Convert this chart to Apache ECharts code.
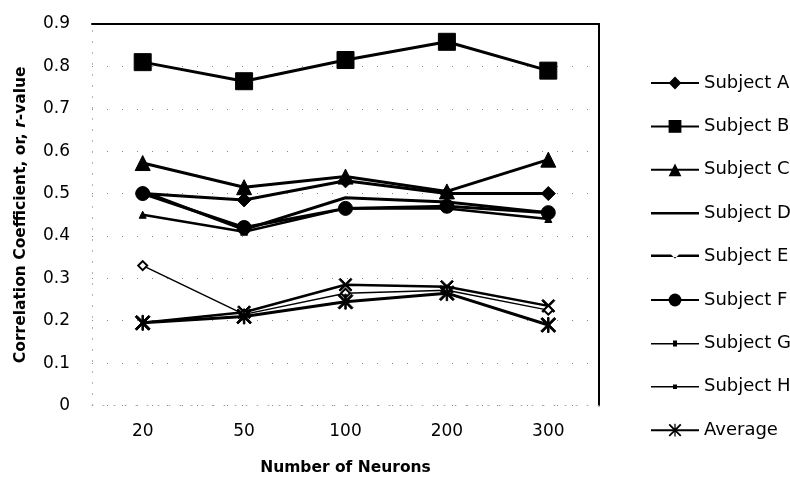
<!DOCTYPE html>
<html>
<head>
<meta charset="utf-8">
<script src="https://cdn.jsdelivr.net/npm/echarts@6/dist/echarts.min.js"></script>
<style>html,body{margin:0;padding:0;background:#fff;}#c{width:790px;height:482px;}</style>
</head>
<body>
<div id="c"></div>
<script>
const categories = ['20', '50', '100', '200', '300'];
const subjectA = [0.50, 0.485, 0.53, 0.50, 0.50];
const subjectB = [0.81, 0.765, 0.815, 0.858, 0.79];
const subjectC = [0.572, 0.515, 0.54, 0.505, 0.58];
const subjectD = [0.505, 0.415, 0.49, 0.48, 0.455];
const subjectE = [0.45, 0.41, 0.465, 0.465, 0.44];
const subjectF = [0.50, 0.42, 0.465, 0.47, 0.455];
const subjectG = [0.195, 0.22, 0.285, 0.28, 0.235];
const subjectH = [0.33, 0.215, 0.265, 0.272, 0.225];
const average = [0.195, 0.21, 0.245, 0.265, 0.19];
const yTicks = [0, 0.1, 0.2, 0.3, 0.4, 0.5, 0.6, 0.7, 0.8, 0.9];
const legendNames = ['Subject A','Subject B','Subject C','Subject D','Subject E','Subject F','Subject G','Subject H','Average'];

const FONT = 'DejaVu Sans';
const X_PATH = 'path://M0,2 L2,0 L10,8 L18,0 L20,2 L12,10 L20,18 L18,20 L10,12 L2,20 L0,18 L8,10 Z';
const STAR_PATH = 'path://M0,2 L2,0 L10,8 L18,0 L20,2 L12,10 L20,18 L18,20 L10,12 L2,20 L0,18 L8,10 Z M9,0 L11,0 L11,20 L9,20 Z';
// legend icons (line + small marker) for series whose marker is small in the reference
const ICON_LINE = 'path://M0,7 L48,7 L48,9.5 L0,9.5 Z';
const ICON_E = 'path://M0,7 L20,7 L24,11 L28,7 L48,7 L48,9.5 L0,9.5 Z';
const ICON_G = 'path://M0,7.5 L48,7.5 L48,9 L0,9 Z M22,5 L26,5 L26,11 L22,11 Z';
const ICON_H = 'path://M0,7.5 L48,7.5 L48,9 L0,9 Z M22,6 L26,6 L26,10.5 L22,10.5 Z';

function mk(name, data, symbol, size, width) {
  return {
    name: name, type: 'line', data: data,
    symbol: symbol, symbolSize: size, showSymbol: size > 0,
    lineStyle: {color: '#000', width: width},
    itemStyle: {color: '#000', borderColor: '#000'},
    animation: false, z: 3
  };
}

const legendData = legendNames.map(function (n) {
  if (n === 'Subject D') return {name: n, icon: ICON_LINE};
  if (n === 'Subject E') return {name: n, icon: ICON_E};
  if (n === 'Subject G') return {name: n, icon: ICON_G};
  if (n === 'Subject H') return {name: n, icon: ICON_H};
  return {name: n};
});

const chart = echarts.init(document.getElementById('c'), null, {renderer: 'canvas'});
chart.setOption({
  backgroundColor: '#fff',
  animation: false,
  grid: {left: 92, right: 191, top: 24, bottom: 76.5, containLabel: false},
  legend: {
    orient: 'vertical', left: 645, top: 69,
    itemWidth: 48, itemHeight: 16, itemGap: 25.4,
    textStyle: {fontFamily: FONT, fontSize: 18, color: '#000'},
    data: legendData
  },
  xAxis: [{
    type: 'category', data: categories, boundaryGap: true,
    name: 'Number of Neurons', nameLocation: 'middle', nameGap: 54,
    nameTextStyle: {fontFamily: FONT, fontSize: 15.5, fontWeight: 'bold', color: '#000'},
    axisLine: {show: true, lineStyle: {color: '#aaa', type: [1, 10]}},
    axisTick: {show: false},
    axisLabel: {fontFamily: FONT, fontSize: 17, color: '#000', margin: 18}
  }, {
    type: 'category', data: categories, position: 'top',
    axisLine: {show: true, onZero: false, lineStyle: {color: '#000', width: 2}},
    axisTick: {show: false}, axisLabel: {show: false}
  }],
  yAxis: [{
    type: 'value', min: yTicks[0], max: yTicks[yTicks.length - 1], interval: 0.1,
    name: '{a|Correlation Coefficient, or, }{b|r}{a|-value}',
    nameLocation: 'middle', nameGap: 63,
    nameTextStyle: {
      rich: {
        a: {fontFamily: FONT, fontSize: 15.5, fontWeight: 'bold', color: '#000'},
        b: {fontFamily: FONT, fontSize: 15.5, fontWeight: 'bold', fontStyle: 'italic', color: '#000'}
      }
    },
    axisLine: {show: true, onZero: false, lineStyle: {color: '#aaa', type: [1, 10]}},
    axisTick: {show: false},
    axisLabel: {fontFamily: FONT, fontSize: 17, color: '#000', margin: 22,
      formatter: function (v) { return v === 0 ? '0' : v.toFixed(1); }},
    splitLine: {show: true, lineStyle: {color: '#888', type: [1, 14], width: 1}}
  }, {
    type: 'value', min: yTicks[0], max: yTicks[yTicks.length - 1], interval: 0.1, position: 'right',
    axisLine: {show: true, onZero: false, lineStyle: {color: '#000', width: 2}},
    axisTick: {show: false}, axisLabel: {show: false}, splitLine: {show: false}
  }],
  series: [
    mk('Subject A', subjectA, 'diamond', 14, 3),
    mk('Subject B', subjectB, 'rect', 17, 3),
    mk('Subject C', subjectC, 'triangle', 15, 3),
    mk('Subject D', subjectD, 'circle', 0, 3),
    mk('Subject E', subjectE, 'triangle', 7, 2.5),
    mk('Subject F', subjectF, 'circle', 14, 3),
    mk('Subject G', subjectG, X_PATH, 13, 2.5),
    mk('Subject H', subjectH, 'emptyDiamond', 9, 1.5),
    mk('Average', average, STAR_PATH, 15, 3)
  ]
});
</script>
</body>
</html>
